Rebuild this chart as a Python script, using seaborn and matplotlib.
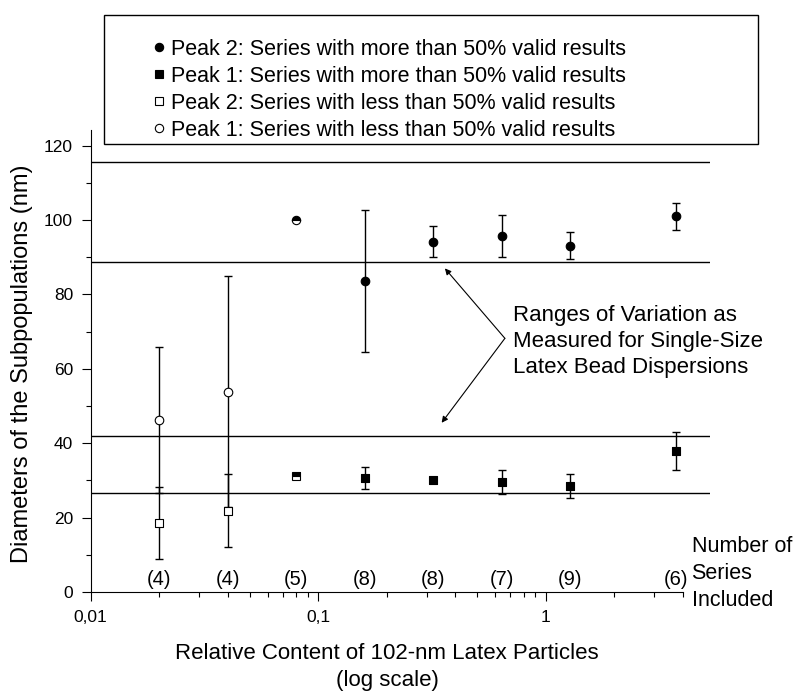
import matplotlib
matplotlib.use("Agg")
import matplotlib.pyplot as plt
import matplotlib.ticker as mticker
from matplotlib.lines import Line2D
from matplotlib.patches import Rectangle
import pandas as pd
import seaborn as sns

sns.set_theme(style="ticks")
plt.rcParams['font.family'] = ['Liberation Sans', 'DejaVu Sans']
plt.rcParams.update({"text.color": "black", "axes.labelcolor": "black",
                     "xtick.color": "black", "ytick.color": "black"})

# relative content of the 102-nm particles -> diameters (nm), +- error
peak2_more_x = [0.16, 0.32, 0.64, 1.28, 3.75]
peak2_more_y = [83.6, 94.2, 95.7, 93.1, 101.0]
peak2_more_err = [19.2, 4.2, 5.7, 3.7, 3.7]

peak1_more_x = [0.16, 0.32, 0.64, 1.28, 3.75]
peak1_more_y = [30.6, 30.2, 29.6, 28.5, 37.9]
peak1_more_err = [3.0, 0.0, 3.2, 3.3, 5.2]

peak2_less_x = [0.02, 0.04]
peak2_less_y = [18.5, 21.9]
peak2_less_err = [9.6, 9.9]

peak1_less_x = [0.02, 0.04]
peak1_less_y = [46.3, 53.9]
peak1_less_err = [19.7, 31.1]

# at 0.08 both kinds of points sit on top of each other
mixed_x = [0.08]
mixed_circle_y = [100.1]
mixed_square_y = [31.3]

# ranges measured for single-size dispersions
range_lines = [115.7, 88.8, 41.9, 26.5]

# number of series included
count_x = [0.02, 0.04, 0.08, 0.16, 0.32, 0.64, 1.28, 3.75]
counts = [4, 4, 5, 8, 8, 7, 9, 6]

labels = [
    "Peak 2: Series with more than 50% valid results",
    "Peak 1: Series with more than 50% valid results",
    "Peak 2: Series with less than 50% valid results",
    "Peak 1: Series with less than 50% valid results",
]

series = [
    (peak2_more_x, peak2_more_y, peak2_more_err, "o", True),
    (peak1_more_x, peak1_more_y, peak1_more_err, "s", True),
    (peak2_less_x, peak2_less_y, peak2_less_err, "s", False),
    (peak1_less_x, peak1_less_y, peak1_less_err, "o", False),
]

fig = plt.figure(figsize=(7.95, 6.92), dpi=100)
ax = fig.add_axes([0.1141, 0.1445, 0.7790, 0.6676])

for y in range_lines:
    ax.axhline(y, color="black", lw=1.0, zorder=1)

handles = []
for (xs, ys, errs, marker, filled), label in zip(series, labels):
    df = pd.DataFrame({"x": xs, "y": ys, "err": errs})
    ax.errorbar(df["x"], df["y"], yerr=df["err"], fmt="none", ecolor="black",
                elinewidth=1.0, capsize=3, capthick=1.0, zorder=2)
    face = "black" if filled else "white"
    sns.scatterplot(data=df, x="x", y="y", ax=ax, marker=marker, s=38,
                    facecolor=face, edgecolor="black", linewidth=0.8,
                    zorder=3)
    handles.append(Line2D([], [], marker=marker, ls="none", markersize=6,
                          markerfacecolor=face, markeredgecolor="black",
                          markeredgewidth=0.8))

for ys, marker in [(mixed_circle_y, "o"), (mixed_square_y, "s")]:
    ax.plot(mixed_x, ys, marker=marker, ls="none", markersize=6,
            fillstyle="top", markerfacecolor="black",
            markerfacecoloralt="white", markeredgecolor="black",
            markeredgewidth=0.8, zorder=3)

ax.set_xscale("log")
ax.set_xlim(0.01, 5.28)
ax.set_ylim(0, 124.2)

ax.set_xticks([0.01, 0.1, 1])
ax.set_xticklabels(["0,01", "0,1", "1"])
minor = [m * d for d in (0.01, 0.1) for m in range(2, 10)] + [2, 3, 4]
ax.xaxis.set_minor_locator(mticker.FixedLocator(minor))
ax.xaxis.set_minor_formatter(mticker.NullFormatter())
ax.yaxis.set_major_locator(mticker.MultipleLocator(20))
ax.yaxis.set_minor_locator(mticker.MultipleLocator(10))

ax.tick_params(which="major", direction="out", length=6.7, width=0.8,
               labelsize=12.5, pad=6, color="black")
ax.tick_params(which="minor", direction="out", length=3.5, width=0.8,
               color="black")

for side in ["top", "right"]:
    ax.spines[side].set_visible(False)
for side in ["left", "bottom"]:
    ax.spines[side].set_linewidth(0.8)
    ax.spines[side].set_color("black")
ax.spines["bottom"].set_bounds(0.01, 4.0)

ax.set_ylabel("Diameters of the Subpopulations (nm)", fontsize=17)
ax.yaxis.label.set_verticalalignment("center")
ax.yaxis.set_label_coords(-0.1114, 0.494)
ax.set_xlabel("Relative Content of 102-nm Latex Particles\n(log scale)",
              fontsize=16, linespacing=1.35)
ax.xaxis.label.set_verticalalignment("center")
ax.xaxis.set_label_coords(0.4785, -0.1617)

for x, n in zip(count_x, counts):
    ax.text(x, 3.4, f"({n})", ha="center", va="center", fontsize=14.5)

ax.text(4.38, 5.0, "Number of\nSeries\nIncluded", ha="left", va="center",
        fontsize=15.5, linespacing=1.35, clip_on=False)

arrow = dict(arrowstyle="-|>", color="black", lw=0.8, mutation_scale=9,
             shrinkA=0, shrinkB=0)
ax.annotate("", xy=(0.3607, 87.0), xytext=(0.662, 68.2), arrowprops=arrow)
ax.annotate("", xy=(0.349, 45.5), xytext=(0.662, 68.2), arrowprops=arrow)
ax.text(0.720, 67.3, "Ranges of Variation as\nMeasured for Single-Size\nLatex Bead Dispersions",
        ha="left", va="center", fontsize=16, linespacing=1.3)

fig.add_artist(Rectangle((0.1308, 0.7926), 0.8226, 0.1853,
                         transform=fig.transFigure, fill=False,
                         edgecolor="black", lw=1.0))
fig.legend(handles, labels, loc="center left", bbox_to_anchor=(0.1918, 0.8704),
           frameon=False, fontsize=15.5, handlelength=0.6, handletextpad=0.25,
           labelspacing=0.28, borderpad=0, borderaxespad=0)

fig.savefig("out.png", dpi=100)
